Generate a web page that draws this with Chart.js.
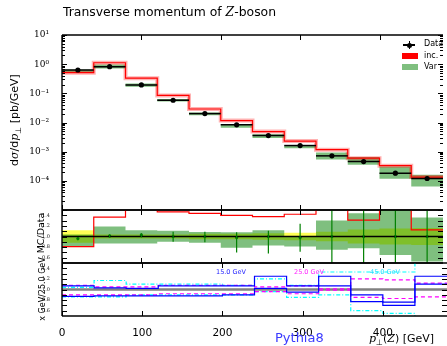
<!DOCTYPE html>
<html lang="en">
<head>
  <meta charset="UTF-8">
  <title>Transverse momentum of Z-boson</title>
  <script src="https://cdn.jsdelivr.net/npm/chart.js@4.4.1/dist/chart.umd.min.js"></script>
  <style>
    html, body { margin: 0; padding: 0; background: #fff; }
    #wrap { position: relative; width: 447px; height: 346px; overflow: hidden; font-family: "DejaVu Sans", sans-serif; }
    #wrap canvas { position: absolute; left: 0; top: 0; }
    .txt { position: absolute; white-space: nowrap; color: #000; line-height: 1; }
    .rot { transform: translate(-50%, -50%) rotate(-90deg); }
    .ser { font-family: "DejaVu Serif", serif; font-style: italic; }
    .sw { position: absolute; }
  </style>
</head>
<body>
<div id="wrap">
  <canvas id="mainChart" width="447" height="346"></canvas>
  <canvas id="ratioChart" width="447" height="346"></canvas>
  <canvas id="varChart" width="447" height="346"></canvas>

  <div class="txt" style="left:63px; top:6px; font-size:12.4px;">Transverse momentum of <span class="ser">Z</span>-boson</div>
  <div class="txt rot" style="left:16px; top:120px; font-size:11px;">d<span class="ser">σ</span>/d<span class="ser">p</span><sub style="font-size:8px">⊥</sub> [pb/GeV]</div>
  <div class="txt rot" style="left:41px; top:233px; font-size:9.5px;">MC/Data</div>
  <div class="txt rot" style="left:43px; top:289px; font-size:8px;">x GeV/25.0 GeV</div>

  <!-- legend -->
  <div class="sw" style="left:403px; top:44px; width:12px; height:1.5px; background:#000;"></div>
  <div class="sw" style="left:408.5px; top:41px; width:1.5px; height:8px; background:#000;"></div>
  <div class="sw" style="left:406.5px; top:42.5px; width:5px; height:5px; border-radius:50%; background:#000;"></div>
  <div class="txt" style="left:424px; top:40px; font-size:8px;">Data</div>
  <div class="sw" style="left:402px; top:53px; width:16px; height:6px; background:#ff0000;"></div>
  <div class="txt" style="left:424px; top:52px; font-size:8px;">inc.</div>
  <div class="sw" style="left:402px; top:64px; width:16px; height:6px; background:rgba(0,128,0,0.5);"></div>
  <div class="txt" style="left:424px; top:63px; font-size:8px;">Var</div>

  <!-- variation labels -->
  <div class="txt" style="left:216px; top:269px; font-size:6.5px; color:#2222ff;">15.0 GeV</div>
  <div class="txt" style="left:294px; top:269px; font-size:6.5px; color:#ff22ff;">25.0 GeV</div>
  <div class="txt" style="left:370px; top:269px; font-size:6.5px; color:#22ddff;">45.0 GeV</div>

  <div class="txt" style="left:275px; top:331px; font-size:13px; color:#3a3aff;">Pythia8</div>
  <div class="txt" style="left:369px; top:333px; font-size:11px;"><span class="ser">p</span><sub style="font-size:8px">⊥</sub>(<span class="ser">Z</span>) [GeV]</div>
</div>
<script>
// bins in GeV
const binLo  = [0, 40, 80, 120, 160, 200, 240, 280, 320, 360, 400, 440];
const binHi  = [40, 80, 120, 160, 200, 240, 280, 320, 360, 400, 440, 480];
const binMid = [20, 60, 100, 140, 180, 220, 260, 300, 340, 380, 420, 460];

// measured data (pb/GeV) and relative uncertainty
const dataVal    = [0.63, 0.82, 0.194, 0.058, 0.0202, 0.0083, 0.00356, 0.00162, 0.000718, 0.000459, 0.000183, 0.00012];
const dataRelErr = [0.12, 0.04, 0.04, 0.04, 0.05, 0.05, 0.06, 0.07, 0.09, 0.13, 0.15, 0.16];

// "inc." prediction (pb/GeV)
const incVal = [0.51, 1.12, 0.33, 0.085, 0.029, 0.0116, 0.0049, 0.0023, 0.00117, 0.0006, 0.00033, 0.000135];

// "Var" envelope and central value, as MC/Data
const varRatioLo  = [0.81, 0.87, 0.87, 0.90, 0.88, 0.79, 0.83, 0.81, 0.75, 0.78, 0.65, 0.53];
const varRatioHi  = [1.04, 1.19, 1.12, 1.11, 1.085, 1.08, 1.12, 1.0, 1.3, 1.44, 1.7, 1.36];
const varRatioMid = [0.96, 1.01, 1.03, 1.0, 1.0, 0.98, 1.0, 0.98, 1.0, 1.0, 1.0, 1.0];
const varErrLo    = [0.93, 0.98, 0.98, 0.90, 0.89, 0.70, 0.68, 0.71, 0.50, 0.50, 0.50, 0.45];
const varErrHi    = [0.98, 1.04, 1.06, 1.09, 1.09, 1.08, 1.11, 1.24, 1.60, 1.60, 1.60, 1.60];

// scale variations relative to 25.0 GeV
const blueHi    = [1.07, 1.03, 1.02, 1.07, 1.07, 1.07, 1.25, 1.07, 1.25, 0.90, 0.76, 1.25];
const blueLo    = [0.87, 0.88, 0.88, 0.88, 0.88, 0.90, 1.02, 0.95, 1.07, 0.77, 0.70, 1.10];
const magentaHi = [1.08, 1.05, 1.05, 1.08, 1.08, 1.08, 1.05, 1.07, 1.01, 1.20, 1.18, 1.12];
const magentaLo = [0.90, 0.90, 0.90, 0.92, 0.92, 0.92, 0.96, 0.92, 0.99, 0.85, 0.83, 0.86];
const cyanHi    = [1.04, 1.17, 1.10, 1.10, 1.10, 1.08, 1.20, 1.08, 1.33, 1.33, 1.33, 1.60];
const cyanLo    = [0.86, 0.86, 0.90, 0.90, 0.90, 0.90, 0.96, 0.85, 0.90, 0.60, 0.55, 0.40];

// ticks
const xTicks     = [0, 100, 200, 300, 400];
const mainTicks  = [1e-4, 1e-3, 1e-2, 1e-1, 1, 10];
const ratioTicks = [0.6, 0.7, 0.8, 0.9, 1.0, 1.1, 1.2, 1.3, 1.4];

const SUP = { '-': '⁻', '0': '⁰', '1': '¹', '2': '²', '3': '³', '4': '⁴', '5': '⁵' };
const sup = n => String(n).split('').map(c => SUP[c]).join('');

const steps = vals => vals.flatMap((v, i) => [{ x: binLo[i], y: v }, { x: binHi[i], y: v }]);
const line = (data, color, width, order, extra = {}) => Object.assign({
  type: 'line', data, borderColor: color, borderWidth: width, pointRadius: 0, fill: false, order
}, extra);

const mainMinor = [];
for (let d = -5; d < 1; d++) for (let k = 2; k < 10; k++) mainMinor.push(k * Math.pow(10, d));

// frame, inward ticks and error bars
const frame = {
  id: 'frame',
  afterDraw(chart, args, o) {
    const { ctx, chartArea: a, scales: { x, y } } = chart;
    const seg = (x0, y0, x1, y1) => { ctx.beginPath(); ctx.moveTo(x0, y0); ctx.lineTo(x1, y1); ctx.stroke(); };
    ctx.save();
    ctx.beginPath(); ctx.rect(a.left, a.top, a.right - a.left, a.bottom - a.top); ctx.clip();
    (o.bars || []).forEach(b => {
      ctx.strokeStyle = b.color; ctx.lineWidth = b.w;
      seg(x.getPixelForValue(b.x0), y.getPixelForValue(b.y0), x.getPixelForValue(b.x1), y.getPixelForValue(b.y1));
    });
    ctx.restore();
    ctx.save();
    ctx.strokeStyle = '#000'; ctx.lineWidth = 1;
    xTicks.forEach(v => {
      const px = Math.round(x.getPixelForValue(v)) + 0.5;
      seg(px, a.top, px, a.top + 5); seg(px, a.bottom, px, a.bottom - 5);
    });
    (o.yMajor || []).forEach(v => {
      const py = Math.round(y.getPixelForValue(v)) + 0.5;
      seg(a.left, py, a.left + 5, py); seg(a.right, py, a.right - 5, py);
    });
    (o.yMinor || []).forEach(v => {
      const py = Math.round(y.getPixelForValue(v)) + 0.5;
      seg(a.left, py, a.left + 3, py); seg(a.right, py, a.right - 3, py);
    });
    ctx.lineWidth = 1.4;
    seg(a.left, a.top, a.right, a.top);
    seg(a.left, a.top, a.left, a.bottom);
    seg(a.left, a.bottom, a.right, a.bottom);
    ctx.restore();
  }
};

const xScale = show => Object.assign({
  type: 'linear', min: 0, max: 480, display: show,
  grid: { display: false }, border: { display: false },
  afterBuildTicks: s => { s.ticks = xTicks.map(v => ({ value: v })); },
  ticks: { font: { family: 'DejaVu Sans', size: 10.5 }, color: '#000', padding: 3, maxRotation: 0 }
}, show ? { afterFit: s => { s.height = 30; } } : {});

const ratioY = {
  type: 'linear', min: 0.5, max: 1.5,
  grid: { display: false }, border: { display: false },
  afterBuildTicks: s => { s.ticks = ratioTicks.map(v => ({ value: v })); },
  ticks: { callback: v => v.toFixed(1), font: { family: 'DejaVu Serif', size: 5 }, color: '#222', padding: 4 },
  afterFit: s => { s.width = 62; }
};

const base = (padding, scales, bars, yMajor, yMinor) => ({
  responsive: false, animation: false, events: [],
  layout: { padding },
  scales,
  plugins: { legend: { display: false }, tooltip: { enabled: false }, frame: { bars, yMajor, yMinor } }
});

const green = 'rgba(0,128,0,0.5)';

// main panel
const dataBars = [];
dataVal.forEach((v, i) => {
  dataBars.push({ x0: binLo[i], y0: v, x1: binHi[i], y1: v, color: '#000', w: 1.5 });
  dataBars.push({ x0: binMid[i], y0: v * (1 - dataRelErr[i]), x1: binMid[i], y1: v * (1 + dataRelErr[i]), color: '#000', w: 1.2 });
});
new Chart(document.getElementById('mainChart'), {
  type: 'line',
  data: {
    datasets: [
      line(binMid.map((m, i) => ({ x: m, y: dataVal[i] })), '#000', 0, 0, { showLine: false, pointRadius: 2.6, pointBackgroundColor: '#000', pointBorderWidth: 0 }),
      line(steps(incVal), '#ff0000', 1.2, 1),
      line(steps(incVal), 'rgba(255,0,0,0.3)', 4, 2),
      line(steps(varRatioLo.map((r, i) => r * dataVal[i])), 'rgba(0,0,0,0)', 0, 4),
      line(steps(varRatioHi.map((r, i) => r * dataVal[i])), 'rgba(0,0,0,0)', 0, 3, { fill: { target: 3 }, backgroundColor: green })
    ]
  },
  options: base({ top: 35, bottom: 136, left: 0, right: 0 }, {
    x: xScale(false),
    y: {
      type: 'logarithmic', min: 1e-5, max: 10,
      grid: { display: false }, border: { display: false },
      afterBuildTicks: s => { s.ticks = mainTicks.map(v => ({ value: v })); },
      ticks: { callback: v => '10' + sup(Math.round(Math.log10(v))), font: { family: 'DejaVu Serif', size: 9 }, color: '#000', padding: 5 },
      afterFit: s => { s.width = 62; }
    }
  }, dataBars, mainTicks.concat([1e-5]), mainMinor),
  plugins: [frame]
});

// MC/Data panel
const ratioBars = [{ x0: 0, y0: 1, x1: 480, y1: 1, color: '#000', w: 1.5 }];
varRatioMid.forEach((v, i) => {
  ratioBars.push({ x0: binMid[i], y0: varErrLo[i], x1: binMid[i], y1: varErrHi[i], color: '#008000', w: 1.2 });
});
new Chart(document.getElementById('ratioChart'), {
  type: 'line',
  data: {
    datasets: [
      line(binMid.map((m, i) => ({ x: m, y: varRatioMid[i] })), '#008000', 0, 0, { showLine: false, pointRadius: 1.6, pointBackgroundColor: '#008000', pointBorderWidth: 0 }),
      line(steps(incVal.map((v, i) => v / dataVal[i])), '#ff0000', 1.2, 1),
      line(steps(varRatioLo), 'rgba(0,0,0,0)', 0, 3),
      line(steps(varRatioHi), 'rgba(0,0,0,0)', 0, 2, { fill: { target: 2 }, backgroundColor: green }),
      line(steps(dataRelErr.map(e => 1 - e)), 'rgba(0,0,0,0)', 0, 5),
      line(steps(dataRelErr.map(e => 1 + e)), 'rgba(0,0,0,0)', 0, 4, { fill: { target: 4 }, backgroundColor: '#ffff55' })
    ]
  },
  options: base({ top: 210, bottom: 83, left: 0, right: 0 }, { x: xScale(false), y: ratioY }, ratioBars, ratioTicks, []),
  plugins: [frame]
});

// variation panel
new Chart(document.getElementById('varChart'), {
  type: 'line',
  data: {
    datasets: [
      line(steps(blueHi), '#0000ff', 1.2, 0),
      line(steps(blueLo), '#0000ff', 1.2, 1),
      line(steps(magentaHi), '#ff00ff', 1.2, 2, { borderDash: [4, 3] }),
      line(steps(magentaLo), '#ff00ff', 1.2, 3, { borderDash: [4, 3] }),
      line(steps(cyanHi), '#00ffff', 1.2, 4, { borderDash: [4, 2, 1, 2] }),
      line(steps(cyanLo), '#00ffff', 1.2, 5, { borderDash: [4, 2, 1, 2] }),
      line(steps(binMid.map(() => 1)), '#808080', 2.5, 6)
    ]
  },
  options: base({ top: 263, bottom: 0, left: 0, right: 0 }, { x: xScale(true), y: ratioY }, [], ratioTicks, []),
  plugins: [frame]
});
</script>
</body>
</html>
